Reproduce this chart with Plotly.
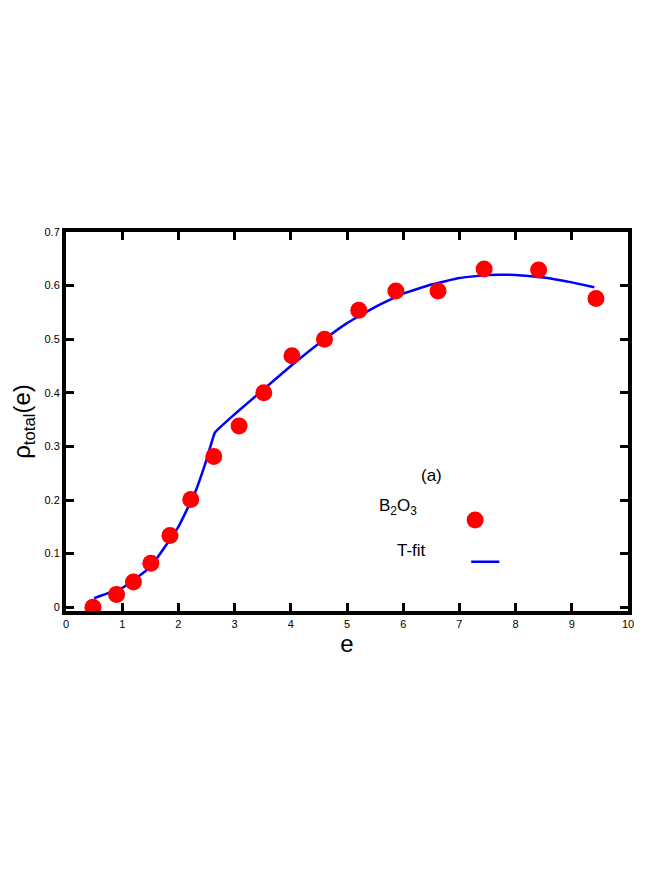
import plotly.graph_objects as go

data_x = [0.48, 0.9, 1.2, 1.51, 1.85, 2.22, 2.63, 3.08, 3.52, 4.02, 4.6, 5.21, 5.87, 6.62, 7.44, 8.41, 9.43]
data_y = [0.0, 0.024, 0.047, 0.082, 0.134, 0.201, 0.281, 0.338, 0.4, 0.469, 0.5, 0.554, 0.59, 0.59, 0.631, 0.629, 0.576]
fit_x = [0.5, 1.0, 1.5, 2.0, 2.3, 2.5, 2.65, 3.0, 3.5, 4.0, 4.5, 5.0, 5.5, 6.0, 6.5, 7.0, 7.5, 8.0, 8.5, 9.0, 9.4]
fit_y = [0.017, 0.036, 0.075, 0.15, 0.215, 0.275, 0.326, 0.36, 0.405, 0.45, 0.492, 0.53, 0.56, 0.585, 0.602, 0.614, 0.62, 0.62, 0.615, 0.606, 0.597]

F = "Liberation Sans, Arial"
fig = go.Figure()
fig.add_trace(go.Scatter(x=fit_x, y=fit_y, mode="lines", line=dict(color="#0000ff", width=2.5, shape="spline", smoothing=0.3), showlegend=False))
fig.add_trace(go.Scatter(x=data_x, y=data_y, mode="markers", marker=dict(color="#ff0000", size=17), showlegend=False))

ax = dict(showline=True, mirror="allticks", linecolor="black", linewidth=4, ticks="inside",
          ticklen=8, tickwidth=3, tickcolor="black", showgrid=False, zeroline=False,
          tickfont=dict(family=F, size=11, color="black"))
fig.update_xaxes(range=[0, 10], dtick=1, title=dict(text="e", font=dict(family=F, size=24, color="black"), standoff=2), **ax)
fig.update_yaxes(range=[-0.007, 0.7], dtick=0.1, title=dict(text="ρ<sub>total</sub>(e)", font=dict(family=F, size=24, color="black"), standoff=8), **ax)

tf = dict(family=F, size=17, color="black")
fig.add_annotation(x=0.673, y=0.357, xref="paper", yref="paper", text="(a)", showarrow=False, font=tf)
fig.add_annotation(x=0.59, y=0.24, xref="paper", yref="paper", text="B<sub>2</sub>O<sub>3</sub>", showarrow=False, font=tf)
fig.add_annotation(x=0.615, y=0.13, xref="paper", yref="paper", text="T-fit", showarrow=False, font=tf)
fig.add_shape(type="circle", xref="paper", yref="paper", xsizemode="pixel", ysizemode="pixel",
              xanchor=0.728, yanchor=0.24, x0=-8.5, x1=8.5, y0=-8.5, y1=8.5,
              fillcolor="#ff0000", line=dict(width=0))
fig.add_shape(type="line", xref="paper", yref="paper", x0=0.721, x1=0.771, y0=0.13, y1=0.13, line=dict(color="#0000ff", width=2.5))

fig.update_layout(width=654, height=872, margin=dict(l=56, r=34, t=224, b=269),
                  plot_bgcolor="white", paper_bgcolor="white", font=dict(family=F, color="black"))
fig.write_html("out.html")
